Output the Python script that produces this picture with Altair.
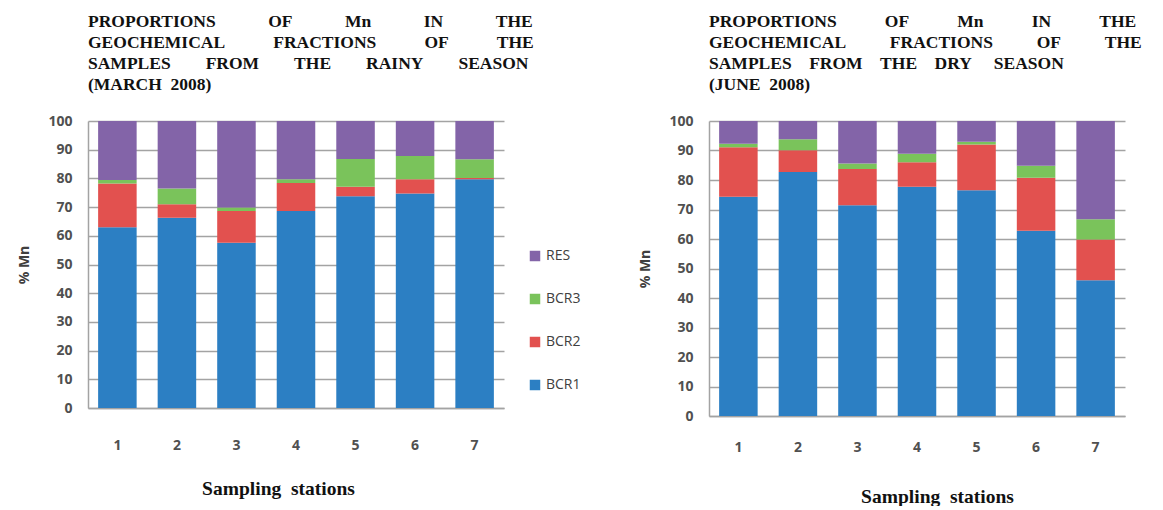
import altair as alt
import pandas as pd

stations = ["1", "2", "3", "4", "5", "6", "7"]
fractions = ["BCR1", "BCR2", "BCR3", "RES"]
legend_order = ["RES", "BCR3", "BCR2", "BCR1"]
colors = ["#8364a8", "#7ac35b", "#e2514f", "#2c7fc3"]

rainy_bcr1 = [63.0, 66.3, 57.6, 68.6, 73.8, 74.7, 79.7]
rainy_bcr2 = [15.2, 4.7, 11.0, 9.8, 3.3, 5.0, 0.4]
rainy_bcr3 = [1.2, 5.5, 1.3, 1.3, 9.7, 8.1, 6.6]
rainy_res = [20.6, 23.5, 30.1, 20.3, 13.2, 12.2, 13.3]

dry_bcr1 = [74.3, 82.7, 71.4, 77.7, 76.5, 62.8, 46.0]
dry_bcr2 = [16.8, 7.4, 12.3, 8.3, 15.5, 18.0, 13.8]
dry_bcr3 = [1.2, 3.7, 1.9, 2.9, 1.0, 4.0, 6.9]
dry_res = [7.7, 6.2, 14.4, 11.1, 7.0, 15.2, 33.3]

NB = "\u00a0"


def g(n):
    return NB * n


rainy_title = [
    "PROPORTIONS" + g(12) + "OF" + g(12) + "Mn" + g(12) + "IN" + g(12) + "THE",
    "GEOCHEMICAL" + g(11) + "FRACTIONS" + g(11) + "OF" + g(11) + "THE",
    "SAMPLES" + g(8) + "FROM" + g(8) + "THE" + g(8) + "RAINY" + g(8) + "SEASON",
    "(MARCH" + g(2) + "2008)",
]
dry_title = [
    "PROPORTIONS" + g(11) + "OF" + g(11) + "Mn" + g(11) + "IN" + g(11) + "THE",
    "GEOCHEMICAL" + g(10) + "FRACTIONS" + g(10) + "OF" + g(10) + "THE",
    "SAMPLES" + g(4) + "FROM" + g(4) + "THE" + g(4) + "DRY" + g(5) + "SEASON",
    "(JUNE" + g(2) + "2008)",
]


def build_df(series):
    rows = []
    for k, frac in enumerate(fractions):
        for i, st in enumerate(stations):
            rows.append({"station": st, "fraction": frac, "idx": k, "value": series[k][i]})
    return pd.DataFrame(rows)


rainy_df = build_df([rainy_bcr1, rainy_bcr2, rainy_bcr3, rainy_res])
dry_df = build_df([dry_bcr1, dry_bcr2, dry_bcr3, dry_res])

GRID = "#a3a3a3"


def panel(df, title_lines, height, legend, title_x, label_pad, title_pad):
    color_legend = None
    if legend:
        color_legend = alt.Legend(
            orient="none", legendX=440, legendY=128, title=None,
            symbolType="square", symbolSize=110, symbolStrokeWidth=0,
            labelFont="Open Sans", labelFontSize=14, labelColor="#404040",
            rowPadding=29, labelOffset=4,
        )
    return alt.Chart(df).mark_bar().encode(
        x=alt.X("station:N", sort=stations,
                scale=alt.Scale(paddingInner=0.353, paddingOuter=0.17),
                axis=alt.Axis(labelAngle=0, tickSize=0, labelPadding=label_pad,
                              labelFont="Open Sans", labelFontSize=14, labelFontWeight="bold",
                              labelColor="#505050", domainColor=GRID, domainWidth=1.5,
                              title="Sampling" + g(2) + "stations", titleFont="Liberation Serif",
                              titleFontSize=19.5, titleFontWeight="bold", titleColor="#111111",
                              titlePadding=title_pad, titleX=title_x, titleAlign="center")),
        y=alt.Y("value:Q", stack="zero", scale=alt.Scale(domain=[0, 100], nice=False),
                axis=alt.Axis(values=list(range(0, 101, 10)), tickSize=0, labelPadding=16,
                              labelFont="Open Sans", labelFontSize=14, labelFontWeight="bold",
                              labelColor="#505050", grid=True, gridColor=GRID, gridWidth=1.5,
                              domainColor=GRID, domainWidth=1.5,
                              title="% Mn", titleFont="Open Sans", titleFontSize=14,
                              titleFontWeight="bold", titleColor="#404040", titlePadding=16)),
        color=alt.Color("fraction:N", scale=alt.Scale(domain=legend_order, range=colors),
                        legend=color_legend),
        order=alt.Order("idx:Q", sort="ascending"),
    ).properties(
        width=416, height=height,
        title=alt.TitleParams(text=title_lines, anchor="start", frame="group",
                              font="Liberation Serif", fontSize=17.5, fontWeight="bold",
                              lineHeight=21, color="#111111", offset=21),
    )


left = panel(rainy_df, rainy_title, 287, True, 190, 30, 27)
right = panel(dry_df, dry_title, 295, False, 228, 24, 33)

chart = alt.hconcat(left, right, spacing=57).resolve_scale(color="independent").properties(
    padding={"left": 9, "top": 4, "right": 0, "bottom": 0}
).configure_view(stroke=None)

chart.save("out.html", embed_options={"renderer": "svg", "actions": False})
